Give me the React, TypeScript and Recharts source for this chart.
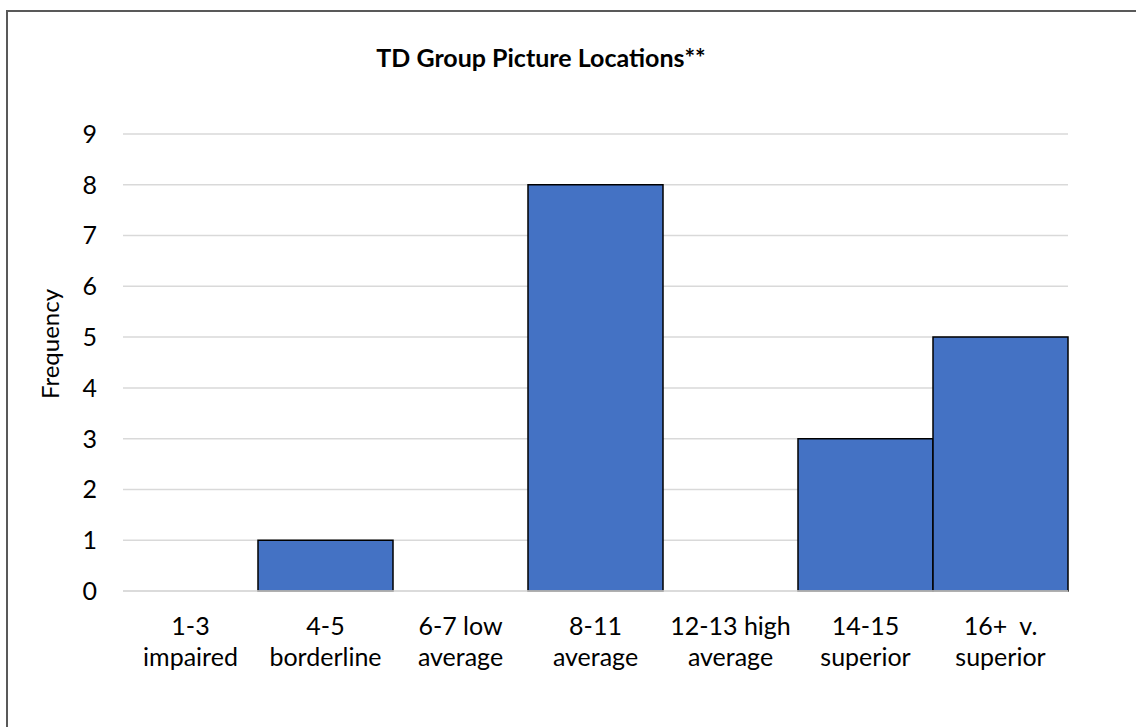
import React from "react";
import { Bar, BarChart, CartesianGrid, Label, XAxis, YAxis } from "recharts";

const categories = [
  "1-3\nimpaired",
  "4-5\nborderline",
  "6-7 low\naverage",
  "8-11\naverage",
  "12-13 high\naverage",
  "14-15\nsuperior",
  "16+  v.\nsuperior",
];
const frequency = [0, 1, 0, 8, 0, 3, 5];
const yTicks = [0, 1, 2, 3, 4, 5, 6, 7, 8, 9];

const data = categories.map((c, i) => ({ range: c, freq: frequency[i] }));

const FONT = "Lato, 'Open Sans', sans-serif";

function TwoLineTick({ x, y, payload }: { x?: number; y?: number; payload?: { value: string } }) {
  if (x == null || y == null || !payload) return null;
  const lines = payload.value.split("\n");
  return (
    <text x={x} y={y} textAnchor="middle" fill="#000" fontSize={25} fontFamily={FONT} style={{ whiteSpace: "pre" }}>
      {lines.map((l, i) => (
        <tspan key={i} x={x} dy={i === 0 ? 44 : 31}>
          {l}
        </tspan>
      ))}
    </text>
  );
}

export default function App() {
  return (
    <div
      style={{
        position: "absolute",
        left: 0,
        top: 0,
        width: 1136,
        height: 727,
        overflow: "hidden",
        background: "#fff",
        fontFamily: FONT,
      }}
    >
      <div
        style={{
          position: "absolute",
          left: 6,
          top: 10,
          width: 1300,
          height: 900,
          border: "2px solid #595959",
        }}
      />
      <div
        style={{
          position: "absolute",
          left: 291,
          width: 500,
          top: 42,
          textAlign: "center",
          fontWeight: "bold",
          fontSize: 25,
          color: "#000",
        }}
      >
        TD Group Picture Locations**
      </div>
      <div style={{ position: "absolute", left: 0, top: 0 }}>
        <BarChart
          width={1136}
          height={727}
          data={data}
          margin={{ top: 134, right: 68, bottom: 106, left: 0 }}
          barCategoryGap={0}
        >
          <CartesianGrid vertical={false} stroke="#d9d9d9" strokeWidth={1.5} />
          <XAxis
            dataKey="range"
            height={30}
            interval={0}
            tickLine={false}
            tickSize={0}
            tickMargin={0}
            axisLine={{ stroke: "#d9d9d9", strokeWidth: 1.5 }}
            tick={<TwoLineTick />}
          />
          <YAxis
            width={123}
            domain={[0, 9]}
            ticks={yTicks}
            interval={0}
            axisLine={false}
            tickLine={false}
            tickSize={0}
            tickMargin={26}
            tick={{ fill: "#000", fontSize: 25, fontFamily: FONT }}
          >
            <Label
              content={() => (
                <text
                  x={49}
                  y={344}
                  transform="rotate(-90 49 344)"
                  textAnchor="middle"
                  dominantBaseline="central"
                  fontSize={24}
                  fontFamily={FONT}
                  fill="#000"
                >
                  Frequency
                </text>
              )}
            />
          </YAxis>
          <Bar dataKey="freq" fill="#4472c4" stroke="#000" strokeWidth={1.5} isAnimationActive={false} />
        </BarChart>
      </div>
    </div>
  );
}
